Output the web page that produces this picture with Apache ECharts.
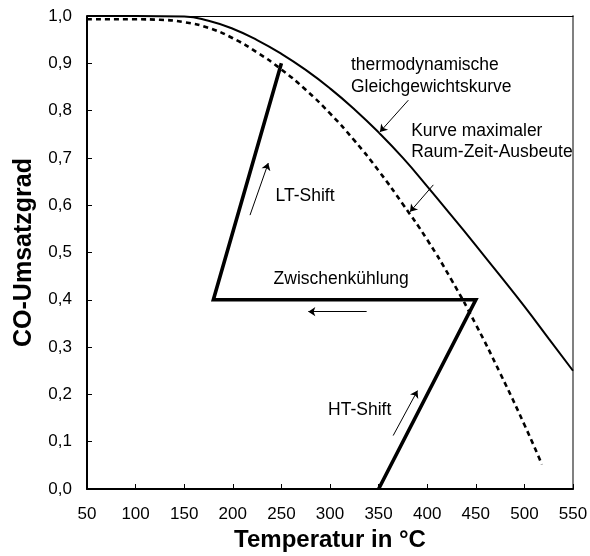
<!DOCTYPE html>
<html>
<head>
<meta charset="utf-8">
<script src="https://cdn.jsdelivr.net/npm/echarts@6/dist/echarts.min.js"></script>
<style>
html,body{margin:0;padding:0;background:#fff;}
#chart{width:590px;height:556px;}
</style>
</head>
<body>
<div id="chart"></div>
<script>
// Thermodynamic equilibrium curve (solid)
const eqTemp = [50, 100, 150, 175, 200, 225, 250, 275, 300, 325, 350, 375, 400, 425, 450, 475, 500, 525, 550];
const eqConv = [1.0, 1.0, 0.999, 0.990, 0.973, 0.949, 0.920, 0.886, 0.847, 0.803, 0.754, 0.700, 0.640, 0.578, 0.515, 0.451, 0.386, 0.318, 0.25];
// Curve of maximum space-time yield (dashed)
const optTemp = [50, 100, 125, 150, 175, 200, 225, 250, 275, 300, 325, 350, 375, 400, 425, 450, 475, 500, 518];
const optConv = [0.993, 0.993, 0.992, 0.987, 0.975, 0.953, 0.923, 0.887, 0.844, 0.794, 0.737, 0.673, 0.602, 0.527, 0.442, 0.348, 0.245, 0.136, 0.052];
// Process path: HT-Shift -> Zwischenkühlung -> LT-Shift
const pathTemp = [350, 450, 180, 250];
const pathConv = [0.0, 0.4, 0.4, 0.9];
// Annotation arrows
const arrowNames = ['Gleichgewicht', 'Ausbeute', 'LT', 'Kuehlung', 'HT'];
const arrowTail = [[380.6, 0.822], [406.3, 0.643], [217.7, 0.579], [337.7, 0.375], [365, 0.113]];
const arrowTip = [[351.4, 0.755], [382.3, 0.586], [236.5, 0.689], [277.7, 0.375], [390, 0.208]];
// Annotation texts (anchor in data coordinates, left aligned, vertical middle)
const noteTexts = ['thermodynamische', 'Gleichgewichtskurve', 'Kurve maximaler', 'Raum-Zeit-Ausbeute', 'LT-Shift', 'Zwischenkühlung', 'HT-Shift'];
const noteTemp = [321.6, 321.6, 383.5, 383.5, 244, 242, 298];
const noteConv = [0.897, 0.850, 0.757, 0.712, 0.620, 0.444, 0.166];
// Axis ticks
const xMin = 50, xMax = 550, xStep = 50;
const yMin = 0, yMax = 1, yStep = 0.1;

const FONT = 'Liberation Sans, Arial, Helvetica, sans-serif';
const chart = echarts.init(document.getElementById('chart'), null, {renderer: 'canvas'});

const zip = (a, b) => a.map((v, i) => [v, b[i]]);

const option = {
  animation: false,
  backgroundColor: '#fff',
  grid: {left: 87, right: 17, top: 16, bottom: 67, outerBoundsMode: 'none', containLabel: false},
  xAxis: [{
    type: 'value', min: xMin, max: xMax, interval: xStep,
    axisLine: {show: true, onZero: false, lineStyle: {color: '#000', width: 2}},
    axisTick: {show: true, inside: true, length: 5, lineStyle: {color: '#000', width: 1}},
    axisLabel: {color: '#000', fontSize: 17, fontFamily: FONT, margin: 17},
    splitLine: {show: false},
    name: 'Temperatur in °C', nameLocation: 'middle', nameGap: 50,
    nameTextStyle: {color: '#000', fontSize: 24, fontWeight: 'bold', fontFamily: FONT, verticalAlign: 'middle'}
  }, {
    type: 'value', position: 'top', min: xMin, max: xMax, interval: xStep,
    axisLine: {show: true, onZero: false, lineStyle: {color: '#000', width: 1}},
    axisTick: {show: false}, axisLabel: {show: false}, splitLine: {show: false}
  }],
  yAxis: [{
    type: 'value', min: yMin, max: yMax, interval: yStep,
    axisLine: {show: true, onZero: false, lineStyle: {color: '#000', width: 2}},
    axisTick: {show: true, inside: true, length: 5, lineStyle: {color: '#000', width: 1}},
    axisLabel: {color: '#000', fontSize: 17, fontFamily: FONT, margin: 15,
      formatter: v => v.toFixed(1).replace('.', ',')},
    splitLine: {show: false},
    name: 'CO-Umsatzgrad', nameLocation: 'middle', nameGap: 63, nameRotate: 90,
    nameTextStyle: {color: '#000', fontSize: 25, fontWeight: 'bold', fontFamily: FONT, verticalAlign: 'middle'}
  }, {
    type: 'value', position: 'right', min: yMin, max: yMax, interval: yStep,
    axisLine: {show: true, onZero: false, lineStyle: {color: '#808080', width: 2}},
    axisTick: {show: false}, axisLabel: {show: false}, splitLine: {show: false}
  }],
  series: [
    {
      name: 'Kurve maximaler Raum-Zeit-Ausbeute', type: 'line', data: zip(optTemp, optConv),
      smooth: 0.5, showSymbol: false, symbol: 'none', clip: false,
      lineStyle: {color: '#000', width: 2.6, type: [5, 4]}, z: 3
    },
    {
      name: 'thermodynamische Gleichgewichtskurve', type: 'line', data: zip(eqTemp, eqConv),
      smooth: 0.5, showSymbol: false, symbol: 'none', clip: false,
      lineStyle: {color: '#000', width: 2}, z: 4
    },
    {
      name: 'Prozessweg', type: 'line', data: zip(pathTemp, pathConv),
      showSymbol: false, symbol: 'none', clip: false,
      lineStyle: {color: '#000', width: 3.6, join: 'miter'}, z: 5
    },
    {
      name: 'Pfeile', type: 'lines', coordinateSystem: 'cartesian2d',
      symbol: ['none', 'arrow'], symbolSize: [0, 7],
      lineStyle: {color: '#000', width: 1, opacity: 1, curveness: 0},
      data: arrowNames.map((n, i) => ({name: n, coords: [arrowTail[i], arrowTip[i]]})),
      z: 6
    }
  ]
};
chart.setOption(option);

const texts = noteTexts.map((t, i) => {
  const p = chart.convertToPixel({xAxisIndex: 0, yAxisIndex: 0}, [noteTemp[i], noteConv[i]]);
  return {
    type: 'text', x: p[0], y: p[1], z: 10,
    style: {text: t, fill: '#000', font: '17.5px ' + FONT, textAlign: 'left', textVerticalAlign: 'middle'}
  };
});
chart.setOption({graphic: texts});
</script>
</body>
</html>
